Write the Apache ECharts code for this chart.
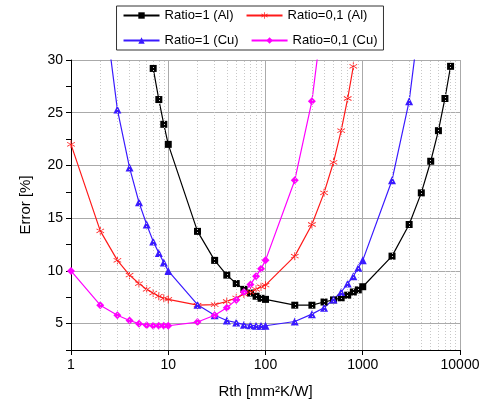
<!DOCTYPE html>
<html>
<head>
<meta charset="utf-8">
<script src="https://cdn.jsdelivr.net/npm/echarts@6/dist/echarts.min.js"></script>
<style>html,body{margin:0;padding:0;background:#fff}#chart{width:500px;height:412px}</style>
</head>
<body>
<div id="chart"></div>
<script>
// Rth values (mm²K/W) and error (%) for each curve
const alRatio1X = [7, 8, 9, 10, 20, 30, 40, 50, 60, 70, 80, 90, 100, 200, 300, 400, 500, 600, 700, 800, 900, 1000, 2000, 3000, 4000, 5000, 6000, 7000, 8000];
const alRatio1Y = [29.2, 26.25, 23.9, 22.0, 13.75, 11.0, 9.6, 8.8, 8.25, 7.9, 7.6, 7.4, 7.3, 6.75, 6.75, 7.05, 7.25, 7.45, 7.7, 8.0, 8.2, 8.5, 11.4, 14.4, 17.4, 20.4, 23.3, 26.35, 29.4];

const alRatio01X = [1, 2, 3, 4, 5, 6, 7, 8, 9, 10, 20, 30, 40, 50, 60, 70, 80, 90, 100, 200, 300, 400, 500, 600, 700, 800];
const alRatio01Y = [22.0, 13.8, 11.0, 9.6, 8.8, 8.25, 7.9, 7.6, 7.4, 7.3, 6.75, 6.8, 7.1, 7.45, 7.8, 8.0, 8.25, 8.5, 8.65, 11.4, 14.4, 17.4, 20.3, 23.3, 26.35, 29.4];

const cuRatio1X = [2.5, 3, 4, 5, 6, 7, 8, 9, 10, 20, 30, 40, 50, 60, 70, 80, 90, 100, 200, 300, 400, 500, 600, 700, 800, 900, 1000, 2000, 3000, 3500];
const cuRatio1Y = [31, 25.3, 19.8, 16.5, 14.4, 12.8, 11.7, 10.8, 10.0, 6.8, 5.8, 5.3, 5.1, 4.9, 4.85, 4.8, 4.8, 4.8, 5.2, 5.9, 6.5, 7.3, 8.0, 8.8, 9.5, 10.3, 11.0, 18.6, 26.1, 31];

const cuRatio01X = [1, 2, 3, 4, 5, 6, 7, 8, 9, 10, 20, 30, 40, 50, 60, 70, 80, 90, 100, 200, 300, 350];
const cuRatio01Y = [10.0, 6.75, 5.8, 5.3, 5.0, 4.85, 4.8, 4.8, 4.8, 4.8, 5.15, 5.8, 6.5, 7.25, 8.0, 8.7, 9.5, 10.2, 11.0, 18.6, 26.1, 31];

const xTicks = [1, 10, 100, 1000, 10000];
const minorX = [];
for (let d = 1; d < 10000; d *= 10) for (let k = 2; k <= 9; k++) minorX.push(d * k);

const pair = (xs, ys) => xs.map((x, i) => [x, ys[i]]);

const chart = echarts.init(document.getElementById('chart'));
const font = 'Liberation Sans, Arial, sans-serif';
const series = [
  { name: 'Ratio=1 (Al)', color: '#000000', symbol: 'rect', size: 7, data: pair(alRatio1X, alRatio1Y) },
  { name: 'Ratio=0,1 (Al)', color: '#ff1a1a', symbol: 'path://M-1,-10L1,-10L1,-1L8,-6L9,-4L2,0L9,4L8,6L1,1L1,10L-1,10L-1,1L-8,6L-9,4L-2,0L-9,-4L-8,-6L-1,-1Z', size: 8, data: pair(alRatio01X, alRatio01Y) },
  { name: 'Ratio=1 (Cu)', color: '#3a1aff', symbol: 'triangle', size: 8, data: pair(cuRatio1X, cuRatio1Y) },
  { name: 'Ratio=0,1 (Cu)', color: '#ff00ff', symbol: 'diamond', size: 8, data: pair(cuRatio01X, cuRatio01Y) }
].map(s => ({
  name: s.name, type: 'line', data: s.data, symbol: s.symbol, symbolSize: s.size,
  itemStyle: { color: s.color }, lineStyle: { color: s.color, width: 1.2 },
  clip: true, animation: false, z: 3
}));

series.push({
  type: 'line', data: [], silent: true, animation: false,
  markLine: {
    symbol: 'none', silent: true, label: { show: false }, animation: false,
    lineStyle: { color: '#c8c8c8', type: [1, 2], width: 1 },
    data: minorX.map(v => ({ xAxis: v }))
  }
});

chart.setOption({
  animation: false,
  legend: {
    top: 6, left: 'center', width: 270, itemGap: 12, itemWidth: 36, itemHeight: 8,
    padding: [3, 6], borderColor: '#333', borderWidth: 1,
    textStyle: { fontFamily: font, fontSize: 13, color: '#000' },
    data: ['Ratio=1 (Al)', 'Ratio=0,1 (Al)', 'Ratio=1 (Cu)', 'Ratio=0,1 (Cu)']
  },
  grid: { left: 71, right: 40, top: 60, bottom: 62 },
  xAxis: {
    type: 'log', logBase: 10, min: 1, max: 10000,
    name: 'Rth [mm²K/W]', nameLocation: 'middle', nameGap: 34,
    nameTextStyle: { fontFamily: font, fontSize: 15, color: '#000' },
    axisLine: { lineStyle: { color: '#000' } },
    axisTick: { lineStyle: { color: '#000' } },
    axisLabel: { fontFamily: font, fontSize: 14, color: '#000', formatter: v => xTicks.includes(v) ? String(v) : '' },
    splitLine: { show: true, lineStyle: { color: '#aaaaaa', width: 1 } }
  },
  yAxis: {
    type: 'value', min: 2.5, max: 30, interval: 2.5,
    name: 'Error [%]', nameLocation: 'middle', nameGap: 38,
    nameTextStyle: { fontFamily: font, fontSize: 15, color: '#000' },
    axisLine: { show: true, lineStyle: { color: '#000' } },
    axisTick: { show: true, lineStyle: { color: '#000' } },
    axisLabel: { fontFamily: font, fontSize: 14, color: '#000', formatter: v => (v % 5 === 0 ? String(v) : '') },
    splitLine: { show: true, lineStyle: { color: ['transparent', '#aaaaaa'], width: 1 } }
  },
  series
});
</script>
</body>
</html>
